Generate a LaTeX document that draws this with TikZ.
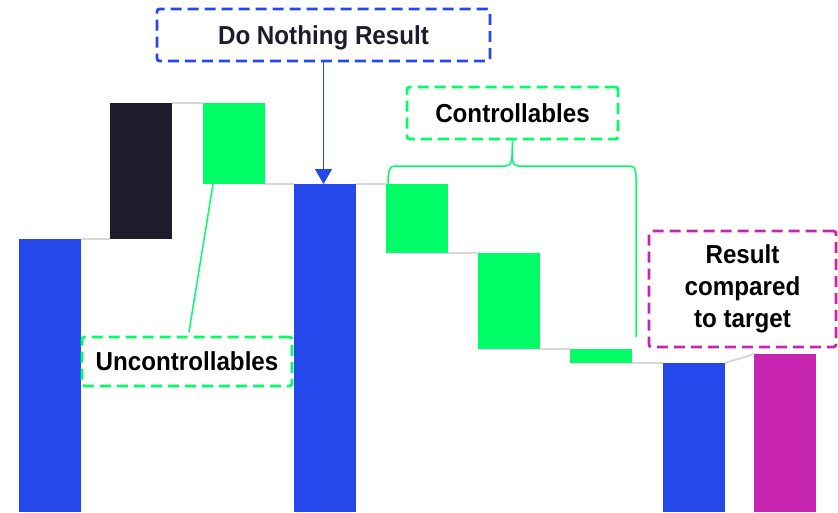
\documentclass[tikz,border=0pt]{standalone}
\usepackage{fontspec}
\setmainfont{Liberation Sans}[FakeStretch=0.93]
\usetikzlibrary{arrows.meta}
\definecolor{cblue}{RGB}{37,72,234}
\definecolor{cgreen}{RGB}{0,255,102}
\definecolor{cdark}{RGB}{31,28,43}
\definecolor{cmag}{RGB}{199,36,177}
\definecolor{cgrey}{RGB}{216,216,216}
\definecolor{ctext}{RGB}{30,27,43}
\begin{document}
\begin{tikzpicture}[x=1pt,y=-1pt,
  bar/.style={inner sep=0pt,outer sep=0pt,anchor=north west,minimum width=62pt},
  link/.style={draw=cgrey,line width=2pt},
  tag/.style={line width=2.8pt,dash pattern=on 11pt off 6pt,rounded corners=2.5pt,
    inner sep=0pt,align=center,font=\bfseries\fontsize{26}{32}\selectfont,text=ctext},
  gline/.style={draw=cgreen,line width=1.5pt}]
\useasboundingbox (0,0) rectangle (838,512);
% bars
\node[bar,fill=cblue,minimum height=273pt] (b1) at (19,239) {};
\node[bar,fill=cdark,minimum height=136pt] (b2) at (110,103) {};
\node[bar,fill=cgreen,minimum height=81pt] (b3) at (203,103) {};
\node[bar,fill=cblue,minimum height=328pt] (b4) at (294,184) {};
\node[bar,fill=cgreen,minimum height=69pt] (b5) at (386,184) {};
\node[bar,fill=cgreen,minimum height=96pt] (b6) at (478,253) {};
\node[bar,fill=cgreen,minimum height=14pt] (b7) at (570,349) {};
\node[bar,fill=cblue,minimum height=149pt] (b8) at (663,363) {};
\node[bar,fill=cmag,minimum height=158pt] (b9) at (754,354) {};
% grey links
\draw[link] (b1.north east) -- (b2.south west);
\draw[link] (b2.north east) -- (b3.north west);
\draw[link] (b3.south east) -- (b4.north west);
\draw[link] (b4.north east) -- (b5.north west);
\draw[link] (b5.south east) -- (b6.north west);
\draw[link] (b6.south east) -- (b7.north west);
\draw[link] (b7.south east) -- (b8.north west);
\draw[link] (b8.north east) -- (b9.north west);
% labels
\node[tag,draw=cblue,minimum width=333pt,minimum height=52pt,text depth=0pt] (dn) at (323.5,35) {Do Nothing Result};
\node[tag,draw=cgreen,minimum width=211pt,minimum height=52pt,text=black] (ctl) at (512.5,113) {Controllables};
\node[tag,draw=cgreen,minimum width=210pt,minimum height=49pt,text=black] (unc) at (187,361.5) {Uncontrollables};
\node[tag,draw=cmag,minimum width=187pt,minimum height=116pt,text=black] (res) at (742.5,289) {Result\\compared\\to target};
% arrow
\draw[draw=cblue,line width=1.6pt,-{Triangle[width=17pt,length=15pt]}] (dn.south) -- (dn.south |- b4.north);
% uncontrollables leader
\coordinate (ul) at ([xshift=10pt]b3.south west);
\coordinate (ue) at (189,332);
\draw[gline] (ul) -- (ue);
% brace
\coordinate (cl) at (388,185);
\coordinate (cr) at (636,337);
\coordinate (cm) at (512,155);
\draw[gline] (cl) .. controls (388,171) and (389,166) .. (395,166) -- (505,166)
  .. controls (510,166) and (512,163) .. (cm) -- (ctl.south);
\draw[gline] (cm) .. controls (512,163) and (514,166) .. (519,166) -- (630,166)
  .. controls (635,166) and (636,170) .. (636,178) -- (cr);
\end{tikzpicture}
\end{document}
